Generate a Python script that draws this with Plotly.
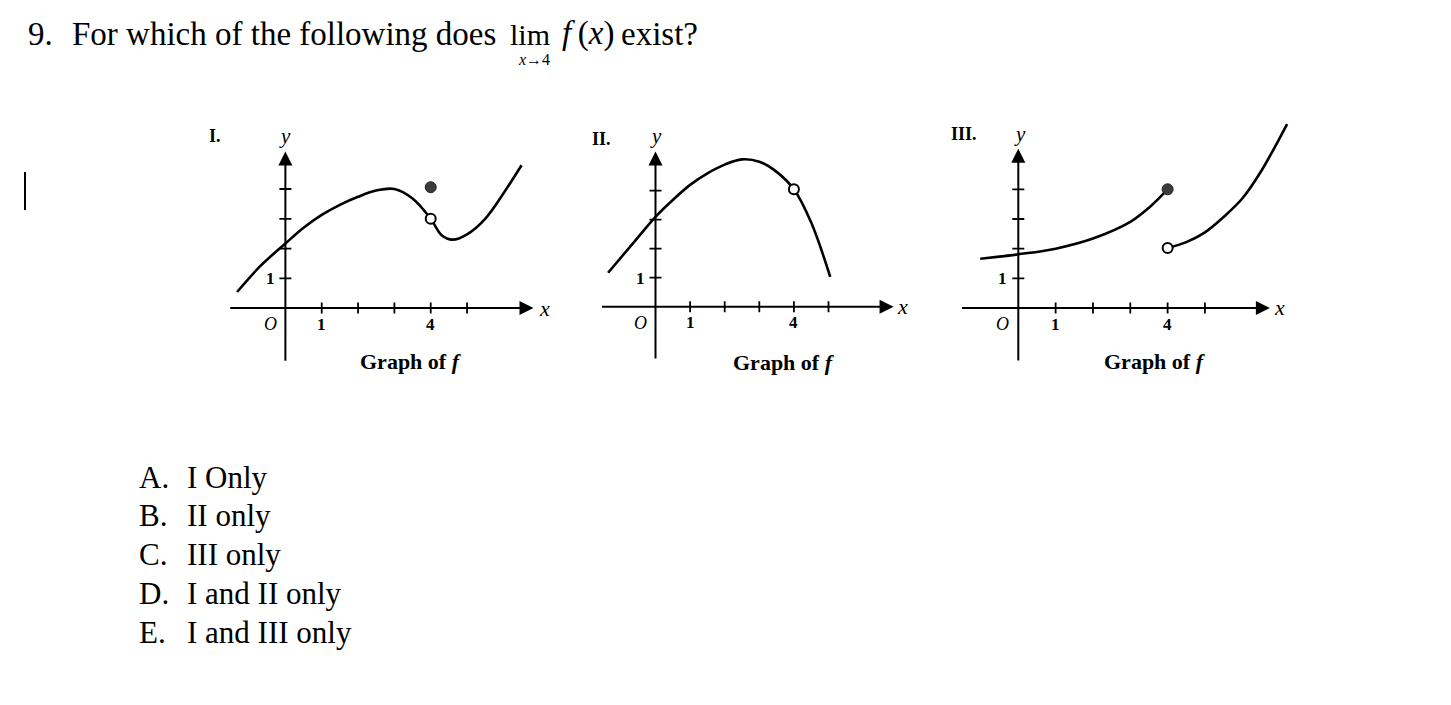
import plotly.graph_objects as go

W, H = 1451, 705

# ---------------- data ----------------
# Graph I
g1_x = [-1.33, -0.7, 0, 0.5, 1, 1.5, 2, 2.5, 3, 3.5, 4, 4.3, 4.6, 5, 5.5, 6, 6.5]
g1_y = [0.54, 1.4, 2.17, 2.7, 3.13, 3.47, 3.74, 3.95, 4.0, 3.68, 3.0, 2.45, 2.3, 2.48, 3.0, 3.85, 4.8]
g1_open_x, g1_open_y = [4], [3.0]
g1_fill_x, g1_fill_y = [4], [4.06]

# Graph II
g2_x = [-1.37, -0.5, 0, 0.5, 1, 1.5, 2, 2.5, 3, 3.5, 4, 4.5, 5.05]
g2_y = [1.17, 2.4, 3.1, 3.68, 4.2, 4.6, 4.9, 5.08, 5.0, 4.65, 4.05, 2.9, 1.03]
g2_open_x, g2_open_y = [4], [4.05]

# Graph III
g3_left_x = [-1.02, 0, 1, 2, 3, 3.5, 4]
g3_left_y = [1.66, 1.81, 2.0, 2.34, 2.9, 3.38, 4.0]
g3_right_x = [4, 4.5, 5, 5.5, 6, 6.5, 7.2]
g3_right_y = [2.02, 2.22, 2.55, 3.07, 3.69, 4.6, 6.2]
g3_fill_x, g3_fill_y = [4], [4.0]
g3_open_x, g3_open_y = [4], [2.02]

x_ticks = [1, 2, 3, 4, 5]
y_ticks = [1, 2, 3, 4]
x_tick_labels = {1: "1", 4: "4"}
y_tick_labels = {1: "1"}
numerals = ["I.", "II.", "III."]

options_letters = ["A.", "B.", "C.", "D.", "E."]
options_text = ["I Only", "II only", "III only", "I and II only", "I and III only"]

# ---------------- layout constants ----------------
SERIF = "Liberation Serif"
XR = [-2.3, 7.6]
YR = [-2.4, 6.5]
panels = [
    dict(ox=285.4, oy=308.1, ux=36.33, uy=29.77, xa=[-1.56, 6.83], ya=[-1.82, 5.26],
         num=(-1.94, 5.78), ylab=(0.0, 5.78), xlab=(7.12, 0.0), gof=(3.47, -1.78)),
    dict(ox=655.5, oy=306.7, ux=34.6, uy=29.0, xa=[-1.59, 6.88], ya=[-1.84, 5.35],
         num=(-1.55, 5.78), ylab=(0.0, 5.89), xlab=(7.15, 0.0), gof=(3.71, -1.91)),
    dict(ox=1018.3, oy=308.0, ux=37.33, uy=29.67, xa=[-1.55, 6.74], ya=[-1.82, 5.37],
         num=(-1.45, 5.86), ylab=(0.05, 5.86), xlab=(7.01, 0.0), gof=(3.66, -1.79)),
]

fig = go.Figure()
annotations = []
layout_axes = {}

curves = [
    [(g1_x, g1_y)],
    [(g2_x, g2_y)],
    [(g3_left_x, g3_left_y), (g3_right_x, g3_right_y)],
]
filled = [[(g1_fill_x, g1_fill_y)], [], [(g3_fill_x, g3_fill_y)]]
opened = [[(g1_open_x, g1_open_y)], [(g2_open_x, g2_open_y)], [(g3_open_x, g3_open_y)]]

for i, p in enumerate(panels):
    n = "" if i == 0 else str(i + 1)
    xr_, yr_ = "x" + n, "y" + n
    dx = [(p["ox"] + XR[0] * p["ux"]) / W, (p["ox"] + XR[1] * p["ux"]) / W]
    dy = [1 - (p["oy"] - YR[0] * p["uy"]) / H, 1 - (p["oy"] - YR[1] * p["uy"]) / H]
    layout_axes["xaxis" + n] = dict(domain=dx, range=XR, visible=False, anchor=yr_, fixedrange=True)
    layout_axes["yaxis" + n] = dict(domain=dy, range=YR, visible=False, anchor=xr_, fixedrange=True)

    # axis lines with arrows
    annotations.append(dict(x=p["xa"][1], y=0, ax=p["xa"][0], ay=0, xref=xr_, yref=yr_,
                            axref=xr_, ayref=yr_, text="", showarrow=True, arrowhead=2,
                            arrowsize=1.4, arrowwidth=2, arrowcolor="black", standoff=0))
    annotations.append(dict(x=0, y=p["ya"][1], ax=0, ay=p["ya"][0], xref=xr_, yref=yr_,
                            axref=xr_, ayref=yr_, text="", showarrow=True, arrowhead=2,
                            arrowsize=1.4, arrowwidth=2, arrowcolor="black", standoff=0))

    # tick marks
    th = 5.5 / p["uy"]
    tw = 6.0 / p["ux"]
    tx, ty = [], []
    for t in x_ticks:
        tx += [t, t, None]
        ty += [-th, th, None]
    for t in y_ticks:
        tx += [-tw, tw, None]
        ty += [t, t, None]
    fig.add_trace(go.Scatter(x=tx, y=ty, mode="lines", line=dict(color="black", width=1.8),
                             xaxis=xr_, yaxis=yr_, hoverinfo="skip", cliponaxis=False))

    # curves
    for cx, cy in curves[i]:
        fig.add_trace(go.Scatter(x=cx, y=cy, mode="lines",
                                 line=dict(color="black", width=2.6, shape="spline", smoothing=1.0),
                                 xaxis=xr_, yaxis=yr_, cliponaxis=False))
    for fx, fy in filled[i]:
        fig.add_trace(go.Scatter(x=fx, y=fy, mode="markers",
                                 marker=dict(size=11, color="#3c3c3c", line=dict(width=1, color="#222")),
                                 xaxis=xr_, yaxis=yr_, cliponaxis=False))
    for ox_, oy_ in opened[i]:
        fig.add_trace(go.Scatter(x=ox_, y=oy_, mode="markers",
                                 marker=dict(size=10, color="white", line=dict(width=2, color="black")),
                                 xaxis=xr_, yaxis=yr_, cliponaxis=False))

    # text labels
    def lab(x, y, text, size, **kw):
        d = dict(x=x, y=y, xref=xr_, yref=yr_, text=text, showarrow=False,
                 font=dict(family=SERIF, size=size, color="black"))
        d.update(kw)
        annotations.append(d)

    for t, s in x_tick_labels.items():
        lab(t, -0.55, "<b>" + s + "</b>", 17)
    for t, s in y_tick_labels.items():
        lab(-0.42, t - 0.02, "<b>" + s + "</b>", 17)
    lab(-0.42, -0.55, "<i>O</i>", 18)
    lab(p["num"][0], p["num"][1], "<b>" + numerals[i] + "</b>", 18)
    lab(p["ylab"][0], p["ylab"][1], "<i>y</i>", 21)
    lab(p["xlab"][0], p["xlab"][1], "<i>x</i>", 22)
    lab(p["gof"][0], p["gof"][1], "<b>Graph of <i>f</i></b>", 22)


def px(x):
    return x / W


def py(y):
    return 1 - y / H


def text_at(x, baseline, text, size, anchor="left"):
    annotations.append(dict(x=px(x), y=py(baseline - 0.3375 * size), xref="paper", yref="paper",
                            xanchor=anchor, yanchor="middle", text=text, showarrow=False,
                            font=dict(family=SERIF, size=size, color="black")))


# question
text_at(26, 45, "9.", 33)
text_at(70, 45, "For which of the following does", 33)
text_at(530, 45, "lim", 30, "center")
text_at(534, 65, "<i>x</i>→4", 16, "center")
text_at(560, 45, "<i>f</i>\u2009(<i>x</i>)", 33)
text_at(700, 45, "exist?", 33, "right")

# options
base0, step = 487.5, 38.8
for k, (L, T) in enumerate(zip(options_letters, options_text)):
    text_at(136.5, base0 + k * step, L, 31)
    text_at(185, base0 + k * step, T, 31)

fig.update_layout(
    width=W, height=H,
    margin=dict(l=0, r=0, t=0, b=0),
    paper_bgcolor="white", plot_bgcolor="white",
    showlegend=False,
    annotations=annotations,
    shapes=[dict(type="line", xref="paper", yref="paper", x0=px(25), x1=px(25),
                 y0=py(172), y1=py(210), line=dict(color="black", width=2))],
    **layout_axes,
)

fig.write_html("out.html")
